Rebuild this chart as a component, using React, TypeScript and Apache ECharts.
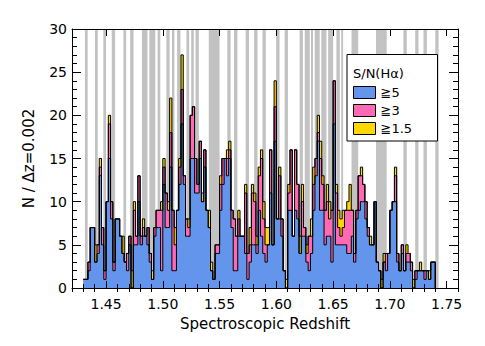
import React, { useEffect, useRef } from "react";
import * as echarts from "echarts";

// Histogram binning (redshift), bin width 0.002
const binStart = 1.43;
const binWidth = 0.002;

// Counts per bin, S/N(Hα) ≥ 5 (blue)
const snHigh = [
  1, 1, 2, 7, 7, 3, 4, 13, 5, 1, 10, 15, 8, 2, 8, 8, 6, 4, 3, 2,
  5, 0, 5, 5, 10, 5, 6, 6, 5, 3, 1, 6, 7, 7, 2, 12, 7, 7, 14, 2,
  2, 9, 12, 19, 12, 6, 6, 15, 15, 11, 11, 15, 10, 14, 9, 7, 2, 1, 4, 4,
  9, 12, 15, 13, 15, 7, 2, 2, 6, 6, 6, 4, 1, 3, 5, 5, 4, 9, 6, 4,
  3, 5, 11, 5, 17, 8, 8, 6, 2, 0, 9, 9, 6, 9, 8, 4, 6, 6, 3, 2,
  4, 9, 13, 17, 9, 9, 5, 6, 6, 3, 19, 5, 5, 5, 5, 5, 4, 4, 6, 3,
  8, 9, 10, 10, 8, 6, 5, 5, 10, 3, 2, 0, 3, 2, 4, 9, 10, 10, 3, 2,
  4, 2, 3, 3, 2, 0, 1, 2, 2, 2, 1, 2, 1, 3, 3,
];
// Counts per bin, 3 ≤ S/N(Hα) < 5 (pink)
const snMid = [
  0, 0, 1, 0, 0, 0, 1, 1, 2, 1, 0, 4, 2, 1, 0, 0, 0, 0, 0, 2,
  1, 0, 4, 1, 3, 1, 1, 0, 2, 1, 0, 1, 2, 2, 7, 2, 4, 2, 4, 7,
  3, 0, 2, 4, 1, 2, 1, 5, 6, 4, 1, 2, 0, 2, 0, 0, 0, 0, 1, 1,
  3, 3, 0, 2, 1, 2, 6, 4, 2, 0, 0, 7, 3, 2, 6, 5, 1, 4, 9, 4,
  2, 0, 5, 0, 4, 0, 5, 2, 0, 0, 2, 7, 0, 7, 4, 0, 4, 1, 1, 4,
  2, 3, 2, 1, 6, 3, 4, 4, 2, 6, 5, 6, 2, 1, 2, 4, 5, 5, 3, 1,
  1, 4, 3, 2, 2, 1, 0, 0, 0, 0, 0, 0, 0, 2, 0, 0, 0, 3, 1, 0,
  1, 0, 1, 1, 1, 0, 1, 0, 0, 0, 1, 0, 0, 0, 0,
];
// Counts per bin, 1.5 ≤ S/N(Hα) < 3 (yellow)
const snLow = [
  0, 0, 0, 0, 0, 2, 0, 1, 0, 0, 0, 1, 0, 0, 0, 0, 0, 2, 0, 0,
  0, 2, 1, 0, 0, 0, 1, 0, 0, 0, 1, 0, 0, 0, 1, 1, 0, 1, 4, 0,
  2, 0, 1, 4, 0, 0, 1, 0, 0, 0, 0, 0, 1, 0, 0, 2, 1, 0, 0, 0,
  1, 0, 0, 1, 1, 0, 0, 0, 1, 0, 0, 1, 0, 2, 1, 1, 1, 1, 1, 2,
  2, 2, 0, 0, 3, 0, 1, 0, 0, 1, 1, 0, 0, 0, 0, 2, 2, 0, 1, 0,
  2, 2, 0, 2, 2, 1, 0, 2, 2, 0, 0, 1, 2, 2, 2, 0, 1, 3, 0, 0,
  0, 0, 1, 0, 0, 0, 1, 0, 0, 0, 0, 1, 1, 0, 0, 0, 0, 1, 0, 0,
  0, 0, 1, 0, 0, 1, 0, 0, 1, 0, 0, 0, 1, 0, 0,
];

// Masked (OH sky line) redshift intervals, drawn as grey bands
const skyBands: [number, number][] = [
  [1.4314, 1.4338], [1.4403, 1.4427], [1.4476, 1.45], [1.455, 1.458],
  [1.4653, 1.4677], [1.4712, 1.4742], [1.4816, 1.4865], [1.4881, 1.4934],
  [1.4954, 1.4978], [1.5031, 1.506], [1.5081, 1.5102], [1.5126, 1.5155],
  [1.5208, 1.5232], [1.525, 1.5273], [1.5288, 1.5317], [1.5405, 1.55],
  [1.5568, 1.5597], [1.5627, 1.5657], [1.573, 1.5759], [1.5804, 1.5834],
  [1.5878, 1.5907], [1.5998, 1.6028], [1.6073, 1.6102], [1.6205, 1.6234],
  [1.625, 1.6294], [1.6305, 1.6323], [1.6338, 1.6382], [1.6396, 1.6441],
  [1.6456, 1.65], [1.6529, 1.6559], [1.6571, 1.6588], [1.6662, 1.6721],
  [1.6878, 1.6972], [1.7119, 1.7149], [1.7223, 1.7252], [1.7296, 1.7326],
  [1.74, 1.7429],
];

const xMin = 1.42;
const xMax = 1.76;
const xMajorTicks = [1.45, 1.5, 1.55, 1.6, 1.65, 1.7, 1.75];
const xMinorTicks = [
  1.42, 1.43, 1.44, 1.46, 1.47, 1.48, 1.49, 1.51, 1.52, 1.53, 1.54, 1.56,
  1.57, 1.58, 1.59, 1.61, 1.62, 1.63, 1.64, 1.66, 1.67, 1.68, 1.69, 1.71,
  1.72, 1.73, 1.74, 1.76,
];
const yMin = 0;
const yMax = 30;
const yInterval = 5;

const seriesNames = ["\u22675", "\u22673", "\u22671.5"];
const seriesColors = ["#6495ED", "#FF69B4", "#FFD700"];
const legendTitle = "S/N(H\u03b1)";
const xTitle = "Spectroscopic Redshift";
const yTitle = "N / \u0394z=0.002";

const FONT = "DejaVu Sans";

function stepData(values: number[]) {
  const pts: [number, number][] = values.map((v, k) => [
    Number((binStart + k * binWidth).toFixed(4)),
    v,
  ]);
  pts.push([Number((binStart + values.length * binWidth).toFixed(4)), 0]);
  return pts;
}

export default function App() {
  const ref = useRef<HTMLDivElement>(null);

  useEffect(() => {
    if (!ref.current) return;
    const chart = echarts.init(ref.current, undefined, { renderer: "svg" });

    // cumulative (stacked) levels: blue, blue+pink, blue+pink+yellow
    const cum1 = snHigh.slice();
    const cum2 = snHigh.map((v, i) => v + snMid[i]);
    const cum3 = cum2.map((v, i) => v + snLow[i]);
    const levels = [cum1, cum2, cum3];

    // draw the tallest (total) level first so lower levels overlay it
    const order = [2, 1, 0];
    const areaSeries = order.map((i, j) => ({
      type: "line",
      name: seriesNames[i],
      step: "end",
      data: stepData(levels[i]),
      symbol: "none",
      showSymbol: false,
      lineStyle: { width: 0, color: seriesColors[i] },
      itemStyle: { color: seriesColors[i] },
      areaStyle: { color: seriesColors[i], opacity: 1, origin: "start" },
      z: 2,
      silent: true,
      ...(j === 0
        ? {
            markArea: {
              silent: true,
              z: 1,
              itemStyle: { color: "#c2c2c2" },
              data: skyBands.map(([a, b]) => [{ xAxis: a }, { xAxis: b }]),
            },
          }
        : {}),
    }));

    const outlineSeries = order.map((i) => ({
      type: "line",
      name: "outline" + i,
      step: "end",
      data: stepData(levels[i]),
      symbol: "none",
      showSymbol: false,
      lineStyle: { width: 1, color: "#000" },
      z: 3,
      silent: true,
    }));

    const labelStyle = { fontFamily: FONT, fontSize: 14, color: "#000" };
    const titleStyle = { fontFamily: FONT, fontSize: 15, color: "#000" };
    const majorTick = { show: true, inside: true, length: 7, lineStyle: { color: "#000", width: 1 } };
    const minorTickX = { show: true, inside: true, length: 4, lineStyle: { color: "#000", width: 1 } };

    const xBase = {
      type: "value",
      min: xMin,
      max: xMax,
      splitLine: { show: false },
      z: 10,
    };
    const yBase = {
      type: "value",
      min: yMin,
      max: yMax,
      interval: yInterval,
      splitLine: { show: false },
      axisTick: { show: true, inside: true, length: 9, lineStyle: { color: "#000" } },
      minorTick: { show: true, splitNumber: 5, length: 5, lineStyle: { color: "#000" } },
      axisLine: { show: true, lineStyle: { color: "#000", width: 1 } },
      z: 10,
    };

    chart.setOption({
      animation: false,
      grid: { left: 72, top: 29, width: 386, height: 259 },
      xAxis: [
        {
          ...xBase,
          position: "bottom",
          axisLine: { show: true, onZero: false, lineStyle: { color: "#000", width: 1 } },
          axisTick: { ...majorTick, customValues: xMajorTicks },
          axisLabel: {
            ...labelStyle,
            margin: 9,
            customValues: xMajorTicks,
            formatter: (v: number) => v.toFixed(2),
          },
          name: xTitle,
          nameLocation: "middle",
          nameGap: 28,
          nameTextStyle: { ...titleStyle },
        },
        {
          ...xBase,
          position: "bottom",
          axisLine: { show: false },
          axisTick: { ...minorTickX, customValues: xMinorTicks },
          axisLabel: { show: false },
        },
        {
          ...xBase,
          position: "top",
          axisLine: { show: true, onZero: false, lineStyle: { color: "#000", width: 1 } },
          axisTick: { ...majorTick, customValues: xMajorTicks },
          axisLabel: { show: false },
        },
        {
          ...xBase,
          position: "top",
          axisLine: { show: false },
          axisTick: { ...minorTickX, customValues: xMinorTicks },
          axisLabel: { show: false },
        },
      ],
      yAxis: [
        {
          ...yBase,
          position: "left",
          axisLabel: { ...labelStyle, margin: 5 },
          name: yTitle,
          nameLocation: "middle",
          nameGap: 36,
          nameTextStyle: { ...titleStyle },
        },
        {
          ...yBase,
          position: "right",
          axisLabel: { show: false },
        },
      ],
      legend: {
        show: true,
        data: seriesNames.map((n, i) => ({
          name: n,
          icon: "rect",
          itemStyle: { color: seriesColors[i], borderColor: "#000", borderWidth: 1 },
        })),
        orient: "vertical",
        left: 353,
        top: 86,
        padding: 0,
        itemWidth: 22,
        itemHeight: 12,
        itemGap: 5,
        selectedMode: false,
        textStyle: { fontFamily: FONT, fontSize: 13, color: "#000", lineHeight: 12, padding: [0, 0, 0, 0] },
        z: 20,
      },
      graphic: [
        {
          type: "rect",
          z: 15,
          shape: { x: 347, y: 54.5, width: 90.5, height: 86.5 },
          style: { fill: "#fff", stroke: "#000", lineWidth: 1 },
        },
        {
          type: "text",
          z: 16,
          x: 353,
          y: 73.5,
          style: {
            text: legendTitle,
            fontFamily: FONT,
            fontSize: 13,
            fill: "#000",
            verticalAlign: "middle",
          },
        },
      ],
      series: [...areaSeries, ...outlineSeries],
    });

    return () => chart.dispose();
  }, []);

  return (
    <div
      ref={ref}
      style={{ position: "absolute", left: 0, top: 0, width: 485, height: 346, background: "#fff" }}
    />
  );
}
